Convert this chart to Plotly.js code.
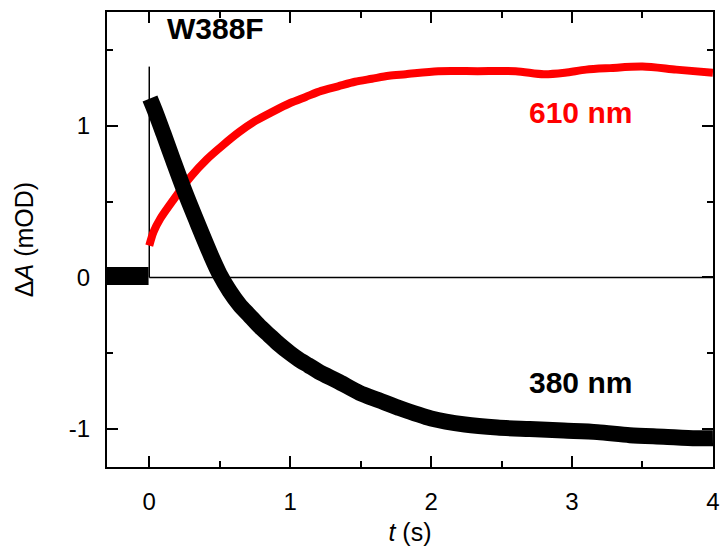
<!DOCTYPE html>
<html>
<head>
<meta charset="utf-8">
<script src="https://cdn.plot.ly/plotly-3.0.1.min.js"></script>
<style>html,body{margin:0;padding:0;background:#fff;}#plot{width:721px;height:549px;}</style>
</head>
<body>
<div id="plot"></div>
<script>
// 380 nm trace, before the flash (t < 0)
const tPre = [-0.3, -0.2, -0.1, -0.005];
const a380Pre = [0.01, 0.01, 0.01, 0.01];
// 380 nm trace, after the flash
const t380 = [0.005, 0.04, 0.1, 0.17, 0.25, 0.35, 0.44, 0.5, 0.57, 0.64, 0.71, 0.78, 0.85, 0.92, 1.0, 1.06, 1.13, 1.2, 1.35, 1.49, 1.63, 1.77, 2.0, 2.24, 2.47, 2.7, 2.94, 3.18, 3.41, 3.65, 3.88, 4.0];
const a380 = [1.18, 1.1, 0.95, 0.77, 0.57, 0.34, 0.14, 0.02, -0.09, -0.18, -0.25, -0.32, -0.38, -0.44, -0.5, -0.54, -0.58, -0.62, -0.69, -0.76, -0.81, -0.86, -0.93, -0.97, -0.99, -1.0, -1.01, -1.02, -1.04, -1.05, -1.06, -1.06];
// 610 nm trace
const t610 = [0.0, 0.03, 0.08, 0.17, 0.29, 0.41, 0.52, 0.64, 0.75, 0.87, 1.0, 1.11, 1.22, 1.34, 1.46, 1.58, 1.7, 1.82, 2.05, 2.33, 2.6, 2.8, 2.95, 3.1, 3.27, 3.5, 3.74, 4.0];
const a610 = [0.21, 0.3, 0.39, 0.51, 0.66, 0.78, 0.87, 0.96, 1.03, 1.09, 1.15, 1.19, 1.23, 1.26, 1.29, 1.31, 1.33, 1.34, 1.36, 1.36, 1.36, 1.34, 1.35, 1.37, 1.38, 1.39, 1.37, 1.35];
// flash marker line height
const flashTop = 1.39;

const font = 'Arial, "Liberation Sans", sans-serif';

const traces = [
  {x: tPre, y: a380Pre, mode: 'lines', line: {color: '#000', width: 18}, hoverinfo: 'skip', showlegend: false},
  {x: t610, y: a610, mode: 'lines', line: {color: '#ff0000', width: 8, shape: 'spline', smoothing: 0.8}, showlegend: false},
  {x: t380, y: a380, mode: 'lines', line: {color: '#000', width: 16, shape: 'spline', smoothing: 0.8}, showlegend: false}
];

const layout = {
  width: 721, height: 549,
  margin: {l: 107, r: 8, t: 12, b: 82},
  paper_bgcolor: '#fff', plot_bgcolor: '#fff',
  showlegend: false,
  font: {family: font, color: '#000'},
  xaxis: {
    range: [-0.3, 4.0005], tickvals: [0, 1, 2, 3, 4], ticktext: ['0', '1', '2', '3', '4'],
    ticks: 'inside', ticklen: 11, tickwidth: 2, tickcolor: '#000',
    minor: {dtick: 0.5, tick0: 0, ticks: 'inside', ticklen: 6, tickwidth: 2, tickcolor: '#000'},
    showline: true, linewidth: 2, linecolor: '#000', mirror: 'allticks',
    showgrid: false, zeroline: false, ticklabeloverflow: 'allow',
    tickfont: {size: 24, family: font}, ticklabelstandoff: 12,
    title: {text: '<i>t</i> (s)', font: {size: 25, family: font}, standoff: 10}
  },
  yaxis: {
    range: [-1.25, 1.75], tickvals: [-1, 0, 1], ticktext: ['-1', '0', '1'],
    ticks: 'inside', ticklen: 11, tickwidth: 2, tickcolor: '#000',
    minor: {dtick: 0.5, tick0: 0, ticks: 'inside', ticklen: 6, tickwidth: 2, tickcolor: '#000'},
    showline: true, linewidth: 2, linecolor: '#000', mirror: 'allticks',
    showgrid: false, zeroline: false,
    tickfont: {size: 24, family: font}, ticklabelstandoff: 10,
    title: {text: 'Δ<i>A</i> (mOD)', font: {size: 25, family: font}, standoff: 28}
  },
  shapes: [
    {type: 'line', xref: 'x', yref: 'y', x0: 0, x1: 4, y0: 0, y1: 0, line: {color: '#000', width: 1.5}, layer: 'below'},
    {type: 'line', xref: 'x', yref: 'y', x0: 0, x1: 0, y0: 0, y1: flashTop, line: {color: '#000', width: 1.5}, layer: 'below'}
  ],
  annotations: [
    {x: 0.47, y: 1.64, xref: 'x', yref: 'y', text: '<b>W388F</b>', showarrow: false, font: {size: 30, family: font, color: '#000'}},
    {x: 3.06, y: 1.09, xref: 'x', yref: 'y', text: '<b>610 nm</b>', showarrow: false, font: {size: 30, family: font, color: '#ff0000'}},
    {x: 3.06, y: -0.69, xref: 'x', yref: 'y', text: '<b>380 nm</b>', showarrow: false, font: {size: 30, family: font, color: '#000'}}
  ]
};

Plotly.newPlot('plot', traces, layout, {staticPlot: true, displayModeBar: false});
</script>
</body>
</html>
